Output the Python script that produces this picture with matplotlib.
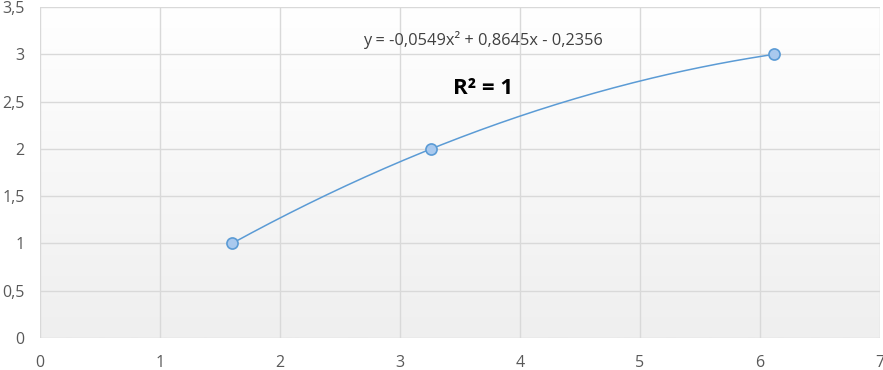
import numpy as np
from matplotlib import pyplot as plt

x_vals = [1.6, 3.26, 6.12]
y_vals = [1, 2, 3]
x_ticks = [0, 1, 2, 3, 4, 5, 6, 7]
y_ticks = [0, 0.5, 1, 1.5, 2, 2.5, 3, 3.5]
y_labels = ['0', '0,5', '1', '1,5', '2', '2,5', '3', '3,5']
eq_text = 'y = -0,0549x² + 0,8645x - 0,2356'
r2_text = 'R² = 1'

plt.rcParams['font.family'] = ['Open Sans', 'DejaVu Sans']

fig = plt.figure(figsize=(8.83, 3.70), dpi=100)
ax = fig.add_axes([40 / 883, 32 / 370, 840 / 883, 331 / 370])

# background gradient, white at top to light gray at bottom
grad = np.linspace(0, 1, 256).reshape(-1, 1)
ax.imshow(grad, cmap=plt.matplotlib.colors.LinearSegmentedColormap.from_list('g', ['#ffffff', '#efefef']),
	extent=[0, 7, 0, 3.5], aspect='auto', origin='upper', zorder=0)

for t in x_ticks:
	ax.axvline(t, color='#d9d9d9', lw=1, zorder=1)
for t in y_ticks:
	ax.axhline(t, color='#d9d9d9', lw=1, zorder=1)

# polynomial trend line fitted on the points
coef = np.polyfit(x_vals, y_vals, 2)
xs = np.linspace(min(x_vals), max(x_vals), 200)
ax.plot(xs, np.polyval(coef, xs), color='#5b9bd5', lw=1.1, zorder=2)
ax.plot(x_vals, y_vals, 'o', ms=8, mfc='#a9c9ee', mec='#5b9bd5', mew=1.2, zorder=3)

ax.text(3.69, 3.15, eq_text, ha='center', va='center', fontsize=11.8, color='#404040')
ax.text(3.69, 2.64, r2_text, ha='center', va='center', fontsize=16, fontweight='bold', color='#000000')

ax.set_xlim(0, 7)
ax.set_ylim(0, 3.5)
ax.set_xticks(x_ticks)
ax.set_yticks(y_ticks)
ax.set_yticklabels(y_labels)
for s in ax.spines.values():
	s.set_visible(False)
ax.tick_params(length=0, labelsize=11.5, labelcolor='#595959')
ax.tick_params(axis='x', pad=12)
ax.tick_params(axis='y', pad=11)

fig.savefig('out.png', dpi=100)
